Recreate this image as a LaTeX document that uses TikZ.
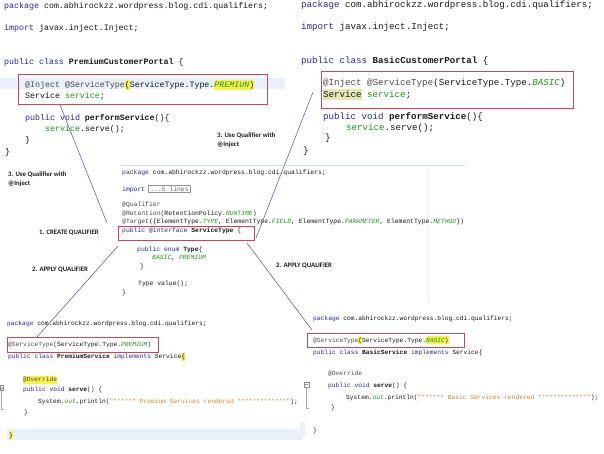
\documentclass[tikz,border=0pt]{standalone}
\usepackage{fontspec}
\setmainfont{Carlito}
\setmonofont{Liberation Mono}
\usetikzlibrary{calc}
\definecolor{kwc}{RGB}{40,40,160}
\definecolor{codec}{RGB}{25,25,25}
\definecolor{annc}{RGB}{75,75,75}
\definecolor{fldc}{RGB}{30,150,30}
\definecolor{strc}{RGB}{205,135,45}
\definecolor{hlyc}{RGB}{246,242,70}
\definecolor{hloc}{RGB}{228,232,180}
\definecolor{linehl}{RGB}{232,240,252}
\definecolor{redc}{RGB}{205,70,80}
\definecolor{connc}{RGB}{90,90,170}
\definecolor{lblc}{RGB}{30,30,30}
\definecolor{boxgray}{RGB}{150,150,150}
\definecolor{topline}{RGB}{200,220,240}
\newcommand\cKw[1]{\textcolor{kwc}{#1}}
\newcommand\cAn[1]{\textcolor{annc}{#1}}
\newcommand\cFd[1]{\textcolor{fldc}{#1}}
\newcommand\cFi[1]{\textcolor{fldc}{\itshape #1}}
\newcommand\cSt[1]{\textcolor{strc}{#1}}
\newcommand\cHy[1]{{\setlength{\fboxsep}{0pt}\colorbox{hlyc}{\strut#1}}}
\newcommand\cHo[1]{{\setlength{\fboxsep}{0pt}\colorbox{hloc}{\strut#1}}}
\tikzset{
  code/.style={anchor=base west, inner sep=0pt, text=codec},
  tlcode/.style={code, font=\fontsize{8.3}{10}\selectfont\ttfamily},
  trcode/.style={code, font=\fontsize{9.17}{11}\selectfont\ttfamily},
  mcode/.style={code, font=\fontsize{6.4}{8}\selectfont\ttfamily},
  bcode/.style={code, font=\fontsize{6.27}{8}\selectfont\ttfamily},
  redbox/.style={draw=redc, line width=0.9pt, inner sep=0pt, anchor=north west},
  conn/.style={draw=connc, line width=0.55pt},
  lbl/.style={font=\fontsize{6.8}{8.4}\selectfont\bfseries, text=lblc, anchor=west, inner sep=0pt, align=left},
}
\begin{document}
\begin{tikzpicture}[x=1pt,y=-1pt]
\fill[white] (0,0) rectangle (604,453);
\useasboundingbox (0,0) rectangle (604,453);

% ---------- line highlights ----------
\fill[linehl] (0,77.5) rectangle (285,89);
\fill[linehl] (7,429) rectangle (303,440);
\fill[linehl] (300,422) rectangle (305,436);
\draw[topline, line width=0.8pt] (120,165) -- (465,165);
\draw[black!12, line width=0.4pt, dotted] (428,166) -- (428,302);

% ---------- top-left: PremiumCustomerPortal ----------
\node[tlcode] (tl1) at (4,8) {\cKw{package} com.abhirockzz.wordpress.blog.cdi.qualifiers;};
\node[tlcode] (tl2) at (4,30.5) {\cKw{import} javax.inject.Inject;};
\node[tlcode] (tl3) at (4,64) {\cKw{public class} \textbf{PremiumCustomerPortal} \{};
\node[tlcode] (tl4) at (25,87.3) {\cAn{@Inject @ServiceType}\cHy{(}ServiceType.Type.\cHy{\cFi{PREMIUN})}};
\node[tlcode] (tl5) at (25,98.5) {Service \cFd{service};};
\node[tlcode] (tl6) at (25,120.5) {\cKw{public void} \textbf{performService}()\{};
\node[tlcode] (tl7) at (45,131.5) {\cFd{service}.serve();};
\node[tlcode] (tl8) at (25,142) {\}};
\node[tlcode] (tl9) at (5,154.5) {\}};
\node[redbox, minimum width=248.4pt, minimum height=30pt] (tlbox) at (18.3,74) {};

% ---------- top-right: BasicCustomerPortal ----------
\node[trcode] (tr1) at (301,7.5) {\cKw{package} com.abhirockzz.wordpress.blog.cdi.qualifiers;};
\node[trcode] (tr2) at (301,29.5) {\cKw{import} javax.inject.Inject;};
\node[trcode] (tr3) at (301,63.5) {\cKw{public class} \textbf{BasicCustomerPortal} \{};
\node[trcode] (tr4) at (323,85.5) {\cAn{@Inject @ServiceType}(ServiceType.Type.\cFi{BASIC})};
\node[trcode] (tr5) at (323,97) {\cHo{Service} \cFd{service};};
\node[trcode] (tr6) at (323,119.5) {\cKw{public void} \textbf{performService}()\{};
\node[trcode] (tr7) at (346,130.5) {\cFd{service}.serve();};
\node[trcode] (tr8) at (325,140.5) {\}};
\node[trcode] (tr9) at (303,153) {\}};
\node[redbox, minimum width=252.5pt, minimum height=37pt] (trbox) at (320.5,70.5) {};

% ---------- middle: ServiceType qualifier ----------
\node[mcode] (m1) at (122,174) {\cKw{package} com.abhirockzz.wordpress.blog.cdi.qualifiers;};
\node[mcode] (m2) at (122,191) {\cKw{import}};
\node[mcode, draw=boxgray, line width=0.5pt, inner xsep=2pt, inner ysep=1.6pt, text=boxgray!70!black] (m2b) at (148,191) {...5 lines};
\node[mcode] (m3) at (122,206.5) {\cAn{@Qualifier}};
\node[mcode] (m4) at (122,215) {\cAn{@Retention}(RetentionPolicy.\cFi{RUNTIME})};
\node[mcode] (m5) at (122,223.5) {\cAn{@Target}(\{ElementType.\cFi{TYPE}, ElementType.\cFi{FIELD}, ElementType.\cFi{PARAMETER}, ElementType.\cFi{METHOD}\})};
\node[mcode] (m6) at (122,232.5) {\cKw{public @interface} \textbf{ServiceType} \{};
\node[mcode] (m7) at (137,251) {\cKw{public enum} \textbf{Type}\{};
\node[mcode] (m8) at (152,259.5) {\cFi{BASIC}, \cFi{PREMIUM}};
\node[mcode] (m9) at (140,268) {\}};
\node[mcode] (m10) at (138,285.5) {Type value();};
\node[mcode] (m11) at (122,294) {\}};
\node[redbox, minimum width=136pt, minimum height=14pt] (mbox) at (117.5,226) {};

% ---------- bottom-left: PremiumService ----------
\node[bcode] (bl1) at (7,325) {\cKw{package} com.abhirockzz.wordpress.blog.cdi.qualifiers;};
\node[bcode] (bl2) at (8,346.5) {\cAn{@ServiceType}(ServiceType.Type.\cFi{PREMIUM})};
\node[bcode] (bl3) at (8,358.5) {\cKw{public class} \textbf{PremiumService} \cKw{implements} Service\cHy{\{}};
\node[bcode] (bl4) at (23,381.5) {\cHy{\cAn{@Override}}};
\node[bcode] (bl5) at (23,391.5) {\cKw{public void} \textbf{serve}() \{};
\node[bcode] (bl6) at (38,403.5) {System.\cFi{out}.println(\cSt{"****** Premium Services rendered *************"});};
\node[bcode] (bl7) at (24,414) {\}};
\node[bcode] (bl8) at (9,437) {\cHy{\}}};
\node[redbox, minimum width=151pt, minimum height=15pt] (blbox) at (7,337) {};
\draw[black!45, line width=0.4pt] (0,385.5) rectangle (3.2,390.5);
\draw[black!45, line width=0.4pt] (0.4,388) -- (2.8,388);
\draw[black!35, line width=0.4pt] (1.6,390.5) -- (1.6,409) -- (3.5,409);

% ---------- bottom-right: BasicService ----------
\node[bcode] (br1) at (313,320.5) {\cKw{package} com.abhirockzz.wordpress.blog.cdi.qualifiers;};
\node[bcode] (br2) at (313,342) {\cAn{@ServiceType}\cHy{(}ServiceType.Type.\cHy{\cFi{BASIC})}};
\node[bcode] (br3) at (313,354.5) {\cKw{public class} \textbf{BasicService} \cKw{implements} Service\{};
\node[bcode] (br4) at (328,375) {\cAn{@Override}};
\node[bcode] (br5) at (328,387) {\cKw{public void} \textbf{serve}() \{};
\node[bcode] (br6) at (346,399) {System.\cFi{out}.println(\cSt{"****** Basic Services rendered *************"});};
\node[bcode] (br7) at (331,409.5) {\}};
\node[bcode] (br8) at (313,432) {\}};
\node[redbox, minimum width=157pt, minimum height=14pt] (brbox) at (307,333) {};
\draw[black!45, line width=0.4pt] (304.3,381.7) rectangle (309,386.7);
\draw[black!45, line width=0.4pt] (305,384.2) -- (308.3,384.2);
\draw[black!35, line width=0.4pt] (306.6,386.7) -- (306.6,408) -- (309,408);

% ---------- labels ----------
\node[lbl] (lab3a) at (217,140.3) {3. Use Qualifier with\\@Inject};
\node[lbl] (lab3b) at (8,179.2) {3. Use Qualifier with\\@Inject};
\node[lbl] (lab1) at (39,233) {1. CREATE QUALIFIER};
\node[lbl] (lab2a) at (32,270) {2. APPLY QUALIFIER};
\node[lbl] (lab2b) at (276,266) {2. APPLY QUALIFIER};

% ---------- connectors ----------
\coordinate (c1s) at ($(tlbox.south west)+(41.7,0)$);
\coordinate (c1e) at (107,223);
\coordinate (c2s) at (313,92);
\coordinate (c2e) at (256,238);
\coordinate (c3s) at (118,246);
\coordinate (c3e) at ($(blbox.north west)+(30,0)$);
\coordinate (c4s) at (247,243);
\coordinate (c4e) at (312,330);
\draw[conn] (c1s) -- (c1e);
\draw[conn] (c2s) -- (c2e);
\draw[conn] (c3s) -- (c3e);
\draw[conn] (c4s) -- (c4e);
\end{tikzpicture}
\end{document}
